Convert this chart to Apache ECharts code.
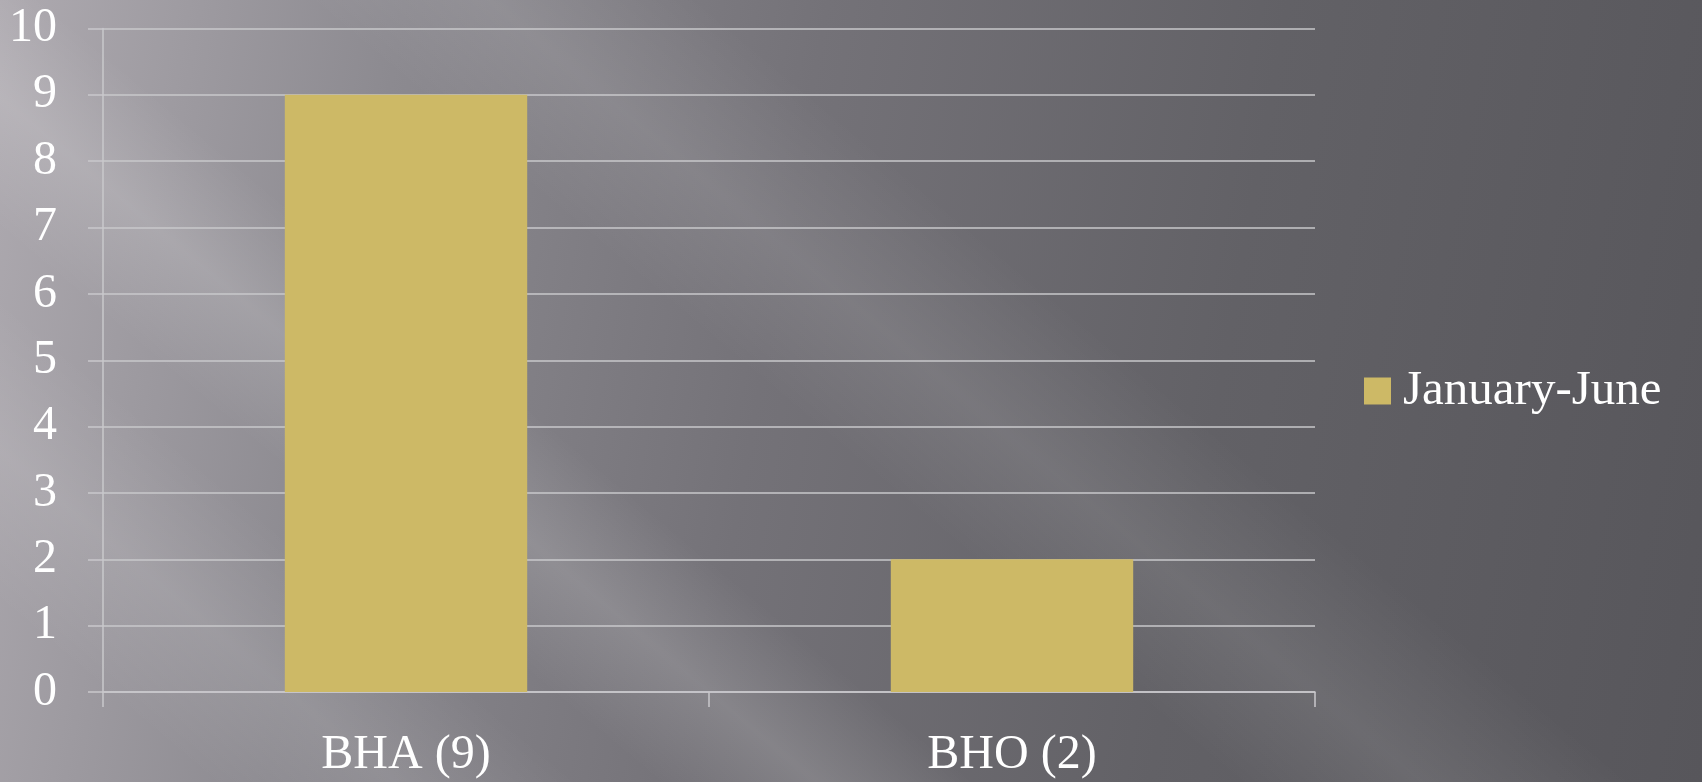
<!DOCTYPE html>
<html>
<head>
<meta charset="utf-8">
<script src="https://cdn.jsdelivr.net/npm/echarts@6/dist/echarts.min.js"></script>
<style>
  html, body { margin: 0; padding: 0; }
  body {
    width: 1702px; height: 782px; overflow: hidden;
    background:
      linear-gradient(40deg, rgba(255,255,255,0) 8%, rgba(255,255,255,0.10) 15%, rgba(255,255,255,0) 22%, rgba(255,255,255,0) 25%, rgba(255,255,255,0.14) 31%, rgba(255,255,255,0) 37%, rgba(255,255,255,0) 47%, rgba(255,255,255,0.09) 54%, rgba(255,255,255,0) 62%),
      linear-gradient(100deg, #aeaab0 0%, #8c8a90 22%, #747278 45%, #626166 70%, #57565b 100%);
  }
  #chart { width: 1702px; height: 782px; }
</style>
</head>
<body>
<div id="chart"></div>
<script>
const categories = ['BHA (9)', 'BHO (2)'];
const seriesName = 'January-June';
const values = [9, 2];
const yTicks = { min: 0, max: 10, interval: 1 };

const FONT = '"Liberation Serif", "DejaVu Serif", serif';
const LINE = '#c9c8cb';

const chart = echarts.init(document.getElementById('chart'), null, { renderer: 'canvas' });
chart.setOption({
  backgroundColor: 'transparent',
  animation: false,
  grid: { left: 103, right: 387, top: 28.5, bottom: 90, containLabel: false },
  legend: {
    orient: 'vertical',
    left: 1364,
    top: 'middle',
    padding: 0,
    icon: 'rect',
    itemWidth: 27,
    itemHeight: 27,
    data: [seriesName],
    textStyle: { color: '#ffffff', fontFamily: FONT, fontSize: 49, padding: [0, 0, 0, 7] }
  },
  xAxis: {
    type: 'category',
    data: categories,
    axisLine: { show: true, lineStyle: { color: LINE, width: 1.5 } },
    axisTick: { show: true, length: 15, alignWithLabel: false, lineStyle: { color: LINE, width: 1.5 } },
    axisLabel: { color: '#ffffff', fontFamily: FONT, fontSize: 48, margin: 39 },
    splitLine: { show: false }
  },
  yAxis: {
    type: 'value',
    min: yTicks.min,
    max: yTicks.max,
    interval: yTicks.interval,
    axisLine: { show: true, lineStyle: { color: LINE, width: 1.5 } },
    axisTick: { show: true, length: 15, lineStyle: { color: LINE, width: 1.5 } },
    axisLabel: { color: '#ffffff', fontFamily: FONT, fontSize: 48, margin: 46 },
    splitLine: { show: true, lineStyle: { color: LINE, width: 1.5 } }
  },
  series: [{
    name: seriesName,
    type: 'bar',
    data: values,
    barCategoryGap: '60%',
    itemStyle: { color: '#cdb966' }
  }]
});
</script>
</body>
</html>
